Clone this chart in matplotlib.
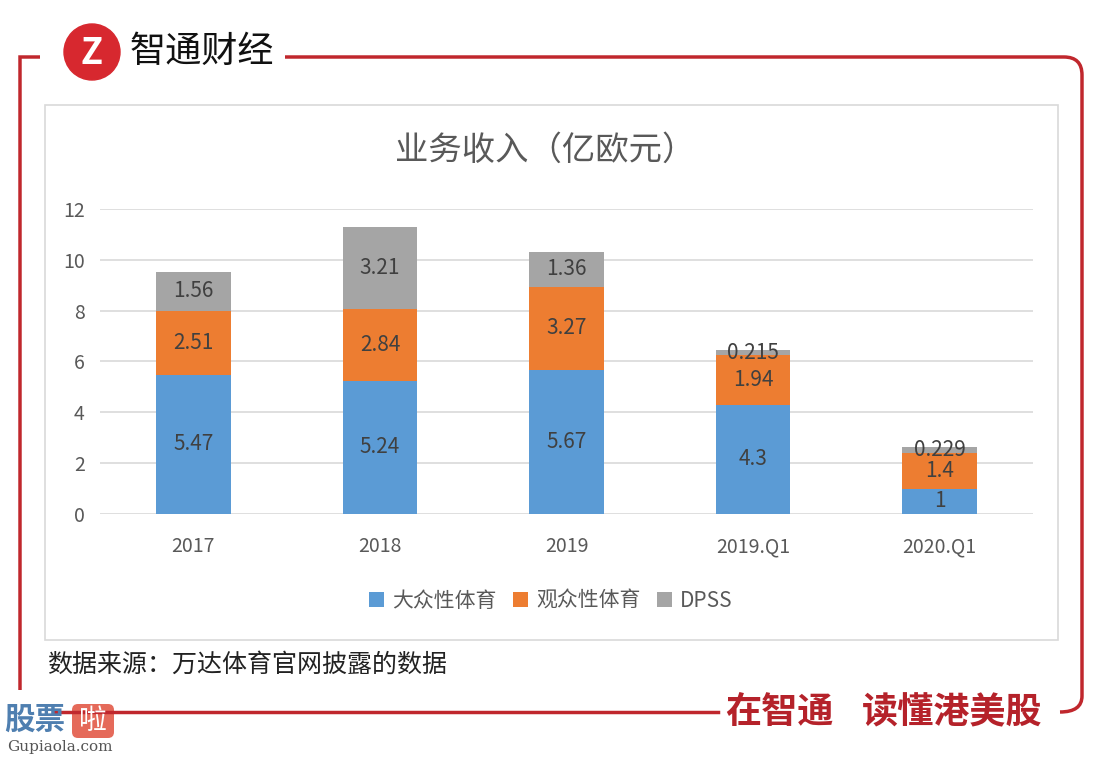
import numpy as np
import matplotlib
matplotlib.use("Agg")
import matplotlib.pyplot as plt
from matplotlib.patches import Rectangle, Circle, FancyBboxPatch
from matplotlib.lines import Line2D
from matplotlib.path import Path
from matplotlib.patches import PathPatch

plt.rcParams['font.family'] = ['Noto Sans CJK SC', 'DejaVu Sans']

# Daten
jahre = ['2017', '2018', '2019', '2019.Q1', '2020.Q1']
massensport = [5.47, 5.24, 5.67, 4.3, 1]
zuschauersport = [2.51, 2.84, 3.27, 1.94, 1.4]
dpss = [1.56, 3.21, 1.36, 0.215, 0.229]
serien_namen = ['大众性体育', '观众性体育', 'DPSS']
farben = ['#5B9BD5', '#ED7D31', '#A5A5A5']
y_ticks = [0, 2, 4, 6, 8, 10, 12]

W, H = 1104, 760
fig = plt.figure(figsize=(W / 100, H / 100), dpi=100)
fig.patch.set_facecolor('white')

# Rahmen (Pixelkoordinaten)
ov = fig.add_axes([0, 0, 1, 1], zorder=0)
ov.set_xlim(0, W)
ov.set_ylim(H, 0)
ov.axis('off')

rot = '#C0272D'
# grauer Diagrammrahmen
ov.add_patch(Rectangle((45, 105), 1013, 535, fill=False, edgecolor='#D9D9D9', lw=1.2))

# roter Rahmen mit Lücken
verts = [(40, 57), (20, 57), (20, 57), (20, 77), (20, 690)]
codes = [Path.MOVETO, Path.LINETO, Path.CURVE3, Path.CURVE3, Path.LINETO]
ov.add_patch(PathPatch(Path(verts, codes), fill=False, edgecolor=rot, lw=2.5))
verts = [(285, 57), (1064, 57), (1082, 57), (1082, 75), (1082, 696), (1082, 712), (1060, 712)]
codes = [Path.MOVETO, Path.LINETO, Path.CURVE3, Path.CURVE3, Path.LINETO, Path.CURVE3, Path.CURVE3]
ov.add_patch(PathPatch(Path(verts, codes), fill=False, edgecolor=rot, lw=2.5))
ov.add_line(Line2D([55, 718], [712, 712], color=rot, lw=2.5))

# Logo
ov.add_patch(Circle((92, 52), 28, color='#D7282F'))
ov.text(92, 53, 'Z', color='white', fontsize=26, fontweight='bold', ha='center', va='center',
        fontstyle='italic')
ov.text(130, 52, '智通财经', fontsize=26, color='#111111', ha='left', va='center')

ov.text(725, 713, '在智通', fontsize=26, color='#B5222A', fontweight='bold',
        ha='left', va='center')
ov.text(862, 713, '读懂港美股', fontsize=26, color='#B5222A', fontweight='bold',
        ha='left', va='center')

# Wasserzeichen
ov.text(4, 720, '股票', fontsize=22, color='#4F7FB0', fontweight='bold', ha='left', va='center')
ov.add_patch(FancyBboxPatch((74, 706), 38, 30, boxstyle='round,pad=2,rounding_size=6',
                            facecolor='#E56A5A', edgecolor='none'))
ov.text(93, 721, '啦', fontsize=20, color='white', ha='center', va='center')
ov.text(60, 747, 'Gupiaola.com', fontsize=11, color='#555555', ha='center', va='center',
        family='DejaVu Serif')

# Quelle
ov.text(47, 665, '数据来源：万达体育官网披露的数据', fontsize=18, color='#222222',
        ha='left', va='center')

# Titel
ov.text(545, 150, '业务收入（亿欧元）', fontsize=24, color='#595959', ha='center', va='center')

# Balkendiagramm
ax = fig.add_axes([100 / W, 1 - 514 / H, 933 / W, 305 / H], zorder=1)
ax.patch.set_alpha(0)
x = np.arange(len(jahre))
unten = np.zeros(len(jahre))
for werte, name, farbe in zip([massensport, zuschauersport, dpss], serien_namen, farben):
    werte = np.array(werte)
    ax.bar(x, werte, 0.4, bottom=unten, color=farbe, label=name, zorder=3)
    for xi, b, v in zip(x, unten, werte):
        ax.text(xi, b + v / 2, f'{v:g}', ha='center', va='center', fontsize=15,
                color='#404040', zorder=4)
    unten = unten + werte

ax.set_xlim(-0.5, len(jahre) - 0.5)
ax.set_ylim(0, 12)
ax.set_yticks(y_ticks)
ax.set_xticks(x)
ax.set_xticklabels(jahre)
ax.grid(axis='y', color='#D9D9D9', lw=1.2, zorder=0)
for s in ax.spines.values():
    s.set_visible(False)
ax.tick_params(axis='both', length=0, labelsize=14, colors='#595959')
ax.tick_params(axis='x', pad=16)
ax.tick_params(axis='y', pad=11)

leg = fig.legend(loc='center', bbox_to_anchor=(551 / W, 1 - 601 / H), ncol=3, frameon=False,
                 fontsize=15, handlelength=0.7, handleheight=0.7, handletextpad=0.4,
                 columnspacing=0.8)
for t in leg.get_texts():
    t.set_color('#595959')

fig.savefig('out.png', dpi=100)
